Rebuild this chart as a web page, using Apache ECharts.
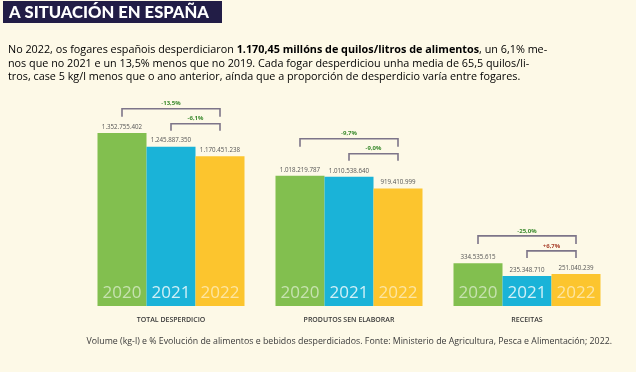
<!DOCTYPE html>
<html><head><meta charset="utf-8">
<script src="https://cdn.jsdelivr.net/npm/echarts@6/dist/echarts.min.js"></script>
<style>html,body{margin:0;padding:0;background:#fdf9e7}#c{width:636px;height:372px}</style>
</head><body><div id="c"></div><script>
// ---- data ----
const categories = ['TOTAL DESPERDICIO', 'PRODUTOS SEN ELABORAR', 'RECEITAS'];
const years = ['2020', '2021', '2022'];
const v2020 = [1352755402, 1018219787, 334535615];
const v2021 = [1245887350, 1010538640, 235348710];
const v2022 = [1170451238, 919410999, 251040239];
const changeVs2020 = ['-13,5%', '-9,7%', '-25,0%'];
const changeVs2021 = ['-6,1%', '-9,0%', '+6,7%'];

const colors = ['#82bf4f', '#1ab3d8', '#fcc52e'];
const seriesVals = [v2020, v2021, v2022];
const FONT = '"Open Sans", sans-serif';
const BW = 49;

function fmt(n) { return String(n).replace(/\B(?=(\d{3})+(?!\d))/g, '.'); }

const chart = echarts.init(document.getElementById('c'), null, {renderer: 'canvas'});

const series = seriesVals.map((vals, i) => ({
  type: 'bar', name: years[i], data: vals, barWidth: BW, barGap: '0%',
  itemStyle: {color: colors[i]}, silent: true,
  label: {show: true, position: 'insideBottom', distance: 4, formatter: years[i],
    fontSize: 17, fontFamily: FONT, color: i === 1 ? 'rgba(255,255,255,0.8)' : 'rgba(255,255,255,0.55)'}
})).concat(seriesVals.map((vals, i) => ({
  type: 'bar', xAxisIndex: 1, data: vals, barWidth: BW, barGap: '0%',
  itemStyle: {color: 'rgba(0,0,0,0)'}, silent: true,
  label: {show: true, position: 'top', distance: 3, formatter: p => fmt(p.value),
    fontSize: 6.2, fontFamily: FONT, color: '#555'}
})));

chart.setOption({
  animation: false,
  backgroundColor: '#fdf9e7',
  grid: {left: 82, right: 20, top: 127, bottom: 66},
  xAxis: [
    {type: 'category', data: categories, axisLine: {show: false}, axisTick: {show: false},
     axisLabel: {fontSize: 7, fontWeight: 600, color: '#3a3a3a', margin: 10, fontFamily: FONT}},
    {type: 'category', data: categories, show: false}
  ],
  yAxis: {type: 'value', min: 0, max: 1400e6, show: false},
  series: series
});

// ---- annotations ----
const g = [];
g.push({type: 'rect', shape: {x: 3, y: 1, width: 219, height: 22}, style: {fill: '#221d46'}});
g.push({type: 'text', x: 9, y: 12.5, style: {text: 'A SITUACIÓN EN ESPAÑA', fill: '#ffffff',
  font: '900 16.6px Lato, sans-serif', verticalAlign: 'middle'}});

const para = [
  '{n|No 2022, os fogares españois desperdiciaron }{b|1.170,45 millóns de quilos/litros de alimentos}{n|, un 6,1% me-}',
  '{n|nos que no 2021 e un 13,5% menos que no 2019. Cada fogar desperdiciou unha media de 65,5 quilos/li-}',
  '{n|tros, case 5 kg/l menos que o ano anterior, aínda que a proporción de desperdicio varía entre fogares.}'
];
const rich = {
  n: {fontSize: 10.8, fontFamily: FONT, color: '#3a3a3a'},
  b: {fontSize: 10.8, fontFamily: FONT, color: '#1e1e1e', fontWeight: 'bold'}
};
para.forEach((t, i) => g.push({type: 'text', x: 8, y: 50 + i * 13.5,
  style: {text: t, rich: rich, verticalAlign: 'middle'}}));

g.push({type: 'text', x: 612, y: 341, style: {
  text: 'Volume (kg-l) e % Evolución de alimentos e bebidos desperdiciados. Fonte: Ministerio de Agricultura, Pesca e Alimentación; 2022.',
  fill: '#3a3a3a', fontSize: 8.8, fontFamily: FONT, align: 'right', verticalAlign: 'middle'}});

function px(cat, val) { return chart.convertToPixel({seriesIndex: 0}, [cat, val]); }
const LC = '#7d7589';
function bracket(x1, x2, y, leg, txt) {
  g.push({type: 'polyline', shape: {points: [[x1, y + leg], [x1, y], [x2, y], [x2, y + leg]]},
    style: {stroke: LC, lineWidth: 1.6, fill: null}});
  g.push({type: 'text', x: (x1 + x2) / 2, y: y - 5, style: {text: txt,
    fill: txt.charAt(0) === '+' ? '#a8402c' : '#3b8a2e', fontSize: 6, fontWeight: 'bold',
    fontFamily: FONT, align: 'center', verticalAlign: 'middle'}});
}
categories.forEach((c, k) => {
  const gmax = Math.max(v2020[k], v2021[k], v2022[k]);
  const imax = Math.max(v2021[k], v2022[k]);
  const center = px(k, gmax);
  const xc = center[0];
  const xs = [xc - BW, xc, xc + BW];
  const innerY = px(k, imax)[1] - 23;
  const outerY = Math.min(center[1] - 22, innerY - 15);
  bracket(xs[0], xs[2], outerY, 8, changeVs2020[k]);
  bracket(xs[1], xs[2], innerY, 7, changeVs2021[k]);
});

chart.setOption({graphic: g});
</script></body></html>
